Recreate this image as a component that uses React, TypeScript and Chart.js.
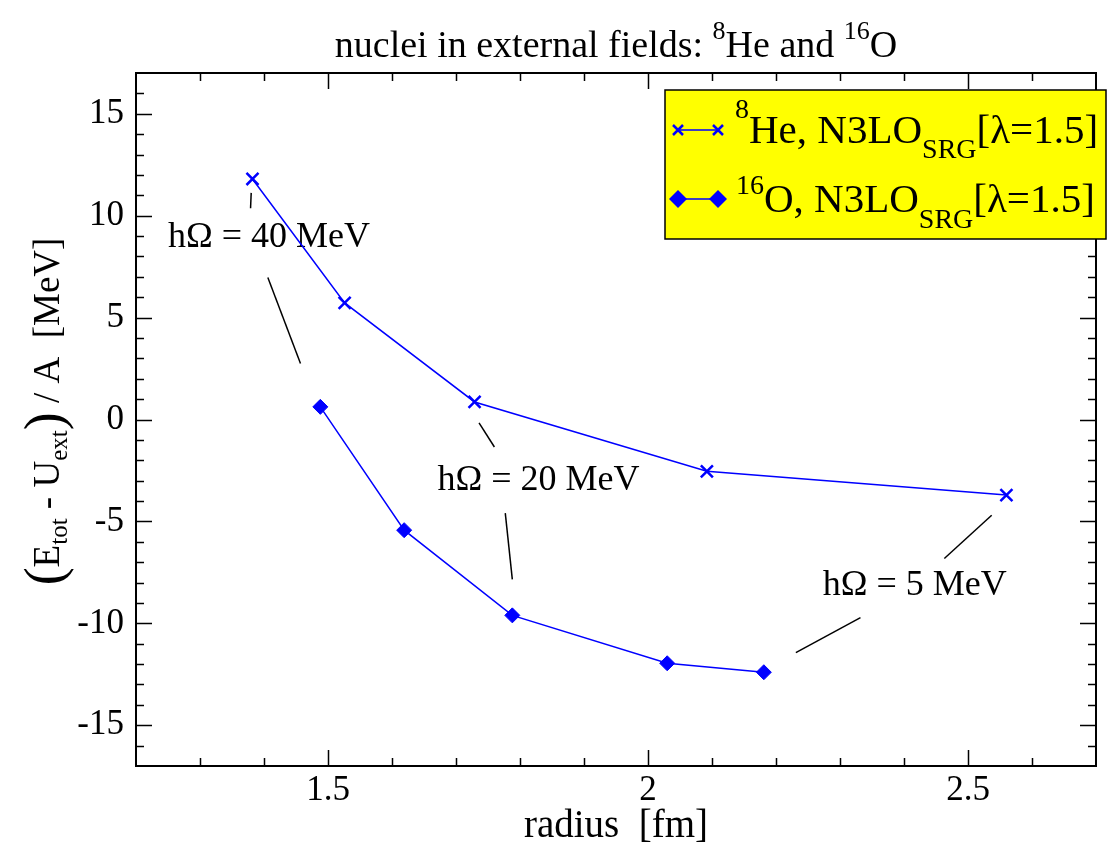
import React, { useEffect, useRef } from 'react';
import { Chart, registerables } from 'chart.js';

Chart.register(...registerables);

// ---- data ----
const heRadius = [1.382, 1.526, 1.729, 2.092, 2.560];
const heEnergy = [11.80, 5.72, 0.86, -2.54, -3.71];
const oRadius = [1.488, 1.619, 1.788, 2.030, 2.181];
const oEnergy = [0.62, -5.43, -9.61, -11.96, -12.40];

const xMajorTicks = [1.5, 2, 2.5];
const xTickLabels = ['1.5', '2', '2.5'];
const xMinorTicks = [1.3, 1.4, 1.6, 1.7, 1.8, 1.9, 2.1, 2.2, 2.3, 2.4, 2.6];
const yMajorTicks = [-15, -10, -5, 0, 5, 10, 15];
const yTickLabels = ['-15', '-10', '-5', '0', '5', '10', '15'];
const yMinorTicks = [-16, -14, -13, -12, -11, -9, -8, -7, -6, -4, -3, -2, -1, 1, 2, 3, 4, 6, 7, 8, 9, 11, 12, 13, 14, 16];

// annotation leader lines in data coordinates [x1, y1, x2, y2]
const annotationLines = [
  [1.380, 11.12, 1.379, 10.36],
  [1.406, 6.97, 1.457, 2.75],
  [1.736, -0.17, 1.760, -1.35],
  [1.777, -4.59, 1.788, -7.84],
  [2.537, -4.70, 2.463, -6.82],
  [2.332, -9.72, 2.231, -11.44],
];
const annotationTexts = ['hΩ = 40 MeV', 'hΩ = 20 MeV', 'hΩ = 5 MeV'];
const annotationX = [1.250, 1.671, 2.273];
const annotationY = [8.95, -2.98, -8.14];

const FONT = '"Liberation Serif", "Times New Roman", serif';
const BLUE = '#0000ff';

type Seg = { t: string; size: number; dy?: number };

function richWidth(ctx: CanvasRenderingContext2D, segs: Seg[]) {
  let w = 0;
  for (const s of segs) {
    ctx.font = `${s.size}px ${FONT}`;
    w += ctx.measureText(s.t).width;
  }
  return w;
}

function drawRich(ctx: CanvasRenderingContext2D, segs: Seg[], x: number, y: number) {
  ctx.textBaseline = 'alphabetic';
  ctx.textAlign = 'left';
  let cx = x;
  for (const s of segs) {
    ctx.font = `${s.size}px ${FONT}`;
    ctx.fillText(s.t, cx, y + (s.dy || 0));
    cx += ctx.measureText(s.t).width;
  }
}

function drawCross(ctx: CanvasRenderingContext2D, x: number, y: number, h: number, lw: number) {
  ctx.save();
  ctx.strokeStyle = BLUE;
  ctx.lineWidth = lw;
  ctx.beginPath();
  ctx.moveTo(x - h, y - h);
  ctx.lineTo(x + h, y + h);
  ctx.moveTo(x + h, y - h);
  ctx.lineTo(x - h, y + h);
  ctx.stroke();
  ctx.restore();
}

function drawDiamond(ctx: CanvasRenderingContext2D, x: number, y: number, r: number) {
  ctx.save();
  ctx.fillStyle = BLUE;
  ctx.beginPath();
  ctx.moveTo(x - r, y);
  ctx.lineTo(x, y - r);
  ctx.lineTo(x + r, y);
  ctx.lineTo(x, y + r);
  ctx.closePath();
  ctx.fill();
  ctx.restore();
}

const decorPlugin = {
  id: 'decor',
  beforeDatasetsDraw(chart: any) {
    const ctx: CanvasRenderingContext2D = chart.ctx;
    const xs = chart.scales.x;
    const ys = chart.scales.y;
    ctx.save();
    ctx.strokeStyle = '#000';
    ctx.lineWidth = 1.5;
    for (const l of annotationLines) {
      ctx.beginPath();
      ctx.moveTo(xs.getPixelForValue(l[0]), ys.getPixelForValue(l[1]));
      ctx.lineTo(xs.getPixelForValue(l[2]), ys.getPixelForValue(l[3]));
      ctx.stroke();
    }
    ctx.fillStyle = '#000';
    ctx.font = `36px ${FONT}`;
    ctx.textAlign = 'left';
    ctx.textBaseline = 'middle';
    annotationTexts.forEach((t, i) => {
      ctx.fillText(t, xs.getPixelForValue(annotationX[i]), ys.getPixelForValue(annotationY[i]));
    });
    ctx.restore();
  },
  afterDatasetsDraw(chart: any) {
    const ctx: CanvasRenderingContext2D = chart.ctx;
    const { left, right, top, bottom } = chart.chartArea;
    const xs = chart.scales.x;
    const ys = chart.scales.y;
    ctx.save();
    // ticks
    ctx.strokeStyle = '#000';
    ctx.lineWidth = 1.5;
    const MAJ = 16;
    const MIN = 8;
    ctx.beginPath();
    const xt = (v: number, len: number) => {
      const p = Math.round(xs.getPixelForValue(v)) + 0.5;
      ctx.moveTo(p, bottom);
      ctx.lineTo(p, bottom - len);
      ctx.moveTo(p, top);
      ctx.lineTo(p, top + len);
    };
    const yt = (v: number, len: number) => {
      const p = Math.round(ys.getPixelForValue(v)) + 0.5;
      ctx.moveTo(left, p);
      ctx.lineTo(left + len, p);
      ctx.moveTo(right, p);
      ctx.lineTo(right - len, p);
    };
    xMajorTicks.forEach((v) => xt(v, MAJ));
    xMinorTicks.forEach((v) => xt(v, MIN));
    yMajorTicks.forEach((v) => yt(v, MAJ));
    yMinorTicks.forEach((v) => yt(v, MIN));
    ctx.stroke();
    // frame
    ctx.lineWidth = 2;
    ctx.strokeRect(left, top, right - left, bottom - top);

    // title
    ctx.fillStyle = '#000';
    const titleSegs: Seg[] = [
      { t: 'nuclei in external fields: ', size: 38 },
      { t: '8', size: 26, dy: -18 },
      { t: 'He and ', size: 38 },
      { t: '16', size: 26, dy: -18 },
      { t: 'O', size: 38 },
    ];
    const cx = (left + right) / 2;
    drawRich(ctx, titleSegs, cx - richWidth(ctx, titleSegs) / 2, 57);

    // x axis title
    ctx.font = `39px ${FONT}`;
    ctx.textAlign = 'center';
    ctx.textBaseline = 'alphabetic';
    ctx.fillText('radius  [fm]', cx, 837);

    // y axis title
    const ySegs: Seg[] = [
      { t: '(', size: 54, dy: 3 },
      { t: 'E', size: 37 },
      { t: 'tot', size: 25, dy: 8 },
      { t: ' - U', size: 37 },
      { t: 'ext', size: 25, dy: 8 },
      { t: ')', size: 54, dy: 3 },
      { t: ' / A  [MeV]', size: 37 },
    ];
    ctx.save();
    ctx.translate(59, (top + bottom) / 2 - 8);
    ctx.rotate(-Math.PI / 2);
    drawRich(ctx, ySegs, -richWidth(ctx, ySegs) / 2, 0);
    ctx.restore();

    // legend
    const bx = 665, by = 90, bw = 441, bh = 149;
    ctx.fillStyle = '#ffff00';
    ctx.fillRect(bx, by, bw, bh);
    ctx.strokeStyle = '#000';
    ctx.lineWidth = 1.5;
    ctx.strokeRect(bx, by, bw, bh);
    ctx.strokeStyle = BLUE;
    ctx.lineWidth = 1.5;
    ctx.beginPath();
    ctx.moveTo(678, 130);
    ctx.lineTo(718, 130);
    ctx.moveTo(678, 199);
    ctx.lineTo(718, 199);
    ctx.stroke();
    drawCross(ctx, 678, 130, 5, 2.5);
    drawCross(ctx, 718, 130, 5, 2.5);
    drawDiamond(ctx, 678, 199, 9);
    drawDiamond(ctx, 718, 199, 9);
    ctx.fillStyle = '#000';
    drawRich(ctx, [
      { t: '8', size: 28, dy: -25 },
      { t: 'He, N3LO', size: 41 },
      { t: 'SRG', size: 28, dy: 15 },
      { t: '[λ=1.5]', size: 41 },
    ], 735, 143);
    drawRich(ctx, [
      { t: '16', size: 28, dy: -18 },
      { t: 'O, N3LO', size: 41 },
      { t: 'SRG', size: 28, dy: 16 },
      { t: '[λ=1.5]', size: 41 },
    ], 736, 212);
    ctx.restore();
  },
};

export default function App() {
  const ref = useRef<HTMLCanvasElement>(null);
  useEffect(() => {
    if (!ref.current) return;
    const chart = new Chart(ref.current, {
      type: 'scatter',
      data: {
        datasets: [
          {
            label: '8He',
            data: heRadius.map((x, i) => ({ x, y: heEnergy[i] })),
            showLine: true,
            borderColor: BLUE,
            backgroundColor: BLUE,
            borderWidth: 1.5,
            pointStyle: 'crossRot',
            pointRadius: 8.5,
            pointBorderWidth: 2.5,
            pointBorderColor: BLUE,
          },
          {
            label: '16O',
            data: oRadius.map((x, i) => ({ x, y: oEnergy[i] })),
            showLine: true,
            borderColor: BLUE,
            backgroundColor: BLUE,
            borderWidth: 1.5,
            pointStyle: 'rectRot',
            pointRadius: 7.5,
            pointBorderWidth: 1,
            pointBackgroundColor: BLUE,
            pointBorderColor: BLUE,
          },
        ],
      },
      options: {
        animation: false,
        responsive: false,
        devicePixelRatio: 1,
        layout: { padding: { left: 0, top: 73, right: 9, bottom: 0 } },
        plugins: {
          legend: { display: false },
          title: { display: false },
          tooltip: { enabled: false },
        },
        scales: {
          x: {
            type: 'linear',
            min: 1.2,
            max: 2.7,
            grid: { display: false, drawTicks: false },
            border: { display: false },
            afterBuildTicks: (s: any) => {
              s.ticks = xMajorTicks.map((v) => ({ value: v }));
            },
            afterFit: (s: any) => {
              s.height = 77;
            },
            ticks: {
              autoSkip: false,
              maxRotation: 0,
              padding: 4,
              color: '#000',
              font: { family: FONT, size: 35 },
              callback: (v: any) => {
                const i = xMajorTicks.indexOf(Number(v));
                return i >= 0 ? xTickLabels[i] : '';
              },
            },
          },
          y: {
            type: 'linear',
            min: -17,
            max: 17,
            grid: { display: false, drawTicks: false },
            border: { display: false },
            afterBuildTicks: (s: any) => {
              s.ticks = yMajorTicks.map((v) => ({ value: v }));
            },
            afterFit: (s: any) => {
              s.width = 136;
            },
            ticks: {
              autoSkip: false,
              padding: 12,
              color: '#000',
              font: { family: FONT, size: 35 },
              callback: (v: any) => {
                const i = yMajorTicks.indexOf(Number(v));
                return i >= 0 ? yTickLabels[i] : '';
              },
            },
          },
        },
      },
      plugins: [decorPlugin],
    });
    return () => chart.destroy();
  }, []);
  return (
    <>
      <style>{`html,body{margin:0;padding:0;overflow:hidden;background:#fff}`}</style>
      <canvas ref={ref} width={1107} height={843} style={{ display: 'block', width: 1107, height: 843 }} />
    </>
  );
}
